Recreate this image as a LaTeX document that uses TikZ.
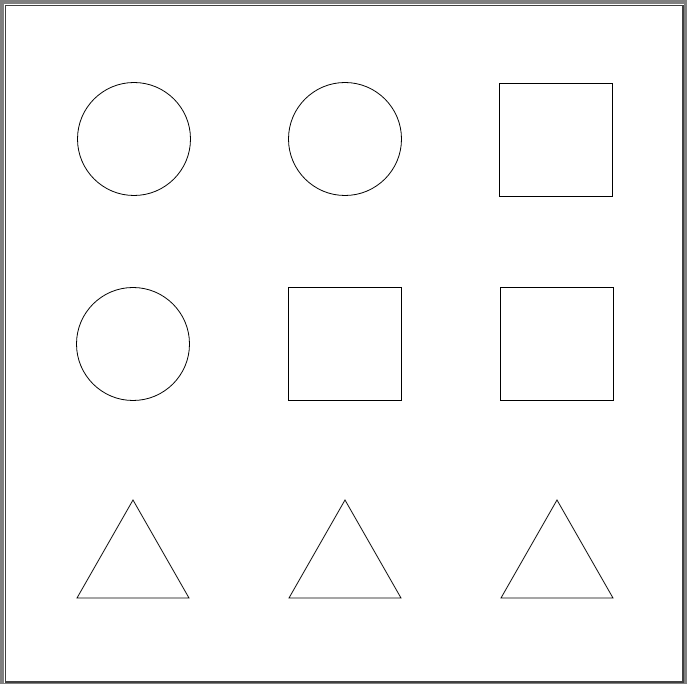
\documentclass[tikz,border=0pt]{standalone}
\usepackage{tikz}
\definecolor{framegray}{HTML}{808080}
\definecolor{framedark}{HTML}{404040}

\begin{document}
\begin{tikzpicture}[x=0.75pt,y=-0.75pt,line width=0.6pt]
  \useasboundingbox (0,0) rectangle (687,684);
  \fill[framegray] (0,0) rectangle (687,684);
  \fill[white] (4,4) rectangle (684,683);
  \draw[framedark,line width=0.9pt] (5.5,5.5) rectangle (683,682);
  % circles
  \foreach \x/\y in {134/139,345/139,133/344} { \draw (\x,\y) circle (56.5); }
  % squares
  \foreach \x/\y in {499/83,288/287,500/287} { \draw (\x,\y) rectangle ++(113,113); }
  % triangles
  \foreach \x in {133,345,557} { \draw (\x,500) -- (\x+56,598) -- (\x-56,598) -- cycle; }
\end{tikzpicture}
\end{document}
